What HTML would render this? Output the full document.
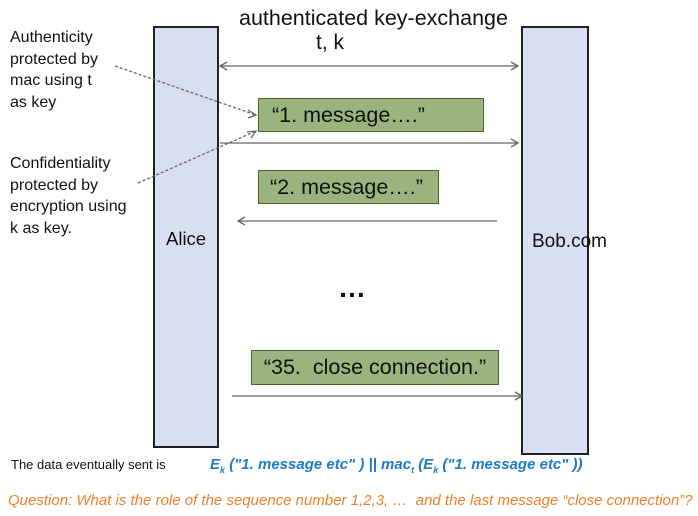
<!DOCTYPE html>
<html><head><style>
body{margin:0;background:#fff;width:698px;height:516px;position:relative;overflow:hidden;font-family:"Liberation Sans",Arial,sans-serif;}
.t{position:absolute;white-space:nowrap;color:#111;}
.box{position:absolute;background:#d9def3;border:2px solid #222;box-sizing:border-box;}
.g{position:absolute;background:#9bb47f;border:1px solid #4f6228;box-sizing:border-box;font-size:21.5px;color:#111;display:flex;align-items:center;}
</style></head><body>
<div class="box" style="left:153px;top:26px;width:66px;height:422px"></div>
<div class="box" style="left:521px;top:26px;width:68px;height:429px"></div>
<div class="t" style="left:166px;top:228px;font-size:18.5px">Alice</div>
<div class="t" style="left:532px;top:231px;font-size:19px">Bob.com</div>
<div class="t" style="left:239px;top:6px;font-size:21.5px">authenticated key-exchange</div>
<div class="t" style="left:316px;top:31px;font-size:21px">t, k</div>
<div class="t" style="left:10px;top:27px;font-size:16px;line-height:21.5px">Authenticity<br>protected by<br>mac using t<br>as key</div>
<div class="t" style="left:10px;top:153px;font-size:16px;line-height:21.5px">Confidentiality<br>protected by<br>encryption using<br>k as key.</div>
<div class="g" style="left:258px;top:98px;width:226px;height:34px;padding-left:13px">“1. message….”</div>
<div class="g" style="left:258px;top:170px;width:181px;height:34px;padding-left:11px">“2. message….”</div>
<div class="g" style="left:251px;top:350px;width:248px;height:35px;justify-content:center">“35.&nbsp; close connection.”</div>
<div class="t" style="left:338px;top:272px;font-size:28px;font-weight:bold">…</div>
<svg width="698" height="516" style="position:absolute;left:0;top:0">
<g stroke="#666" stroke-width="1.3" fill="none">
<line x1="220" y1="66" x2="518" y2="66"/>
<polyline points="227,62 220,66 227,70"/><polyline points="511,62 518,66 511,70"/>
<line x1="220" y1="143" x2="518" y2="143"/>
<polyline points="511,139 518,143 511,147"/>
<line x1="238" y1="221" x2="497" y2="221"/>
<polyline points="245,217 238,221 245,225"/>
<line x1="232" y1="396" x2="522" y2="396"/>
<polyline points="515,392 522,396 515,400"/>
<line x1="115" y1="66" x2="256" y2="115" stroke-dasharray="3,2"/>
<polyline points="248,110 256,115 248,118"/>
<line x1="138" y1="183" x2="256" y2="131" stroke-dasharray="3,2"/>
<polyline points="247,132 256,131 251,138"/>
</g></svg>
<div class="t" style="left:11px;top:457px;font-size:13px">The data eventually sent is</div>
<div class="t" style="left:210px;top:456px;font-size:15px;color:#1f78c8;font-style:italic;font-weight:bold">E<sub style="font-size:9px">k</sub> ("1. message etc" ) || mac<sub style="font-size:9px">t</sub> (E<sub style="font-size:9px">k</sub> ("1. message etc" ))</div>
<div class="t" style="left:8px;top:492px;font-size:15px;color:#f07f2a;font-style:italic">Question: What is the role of the sequence number 1,2,3, …&nbsp; and the last message “close connection”?</div>
</body></html>
